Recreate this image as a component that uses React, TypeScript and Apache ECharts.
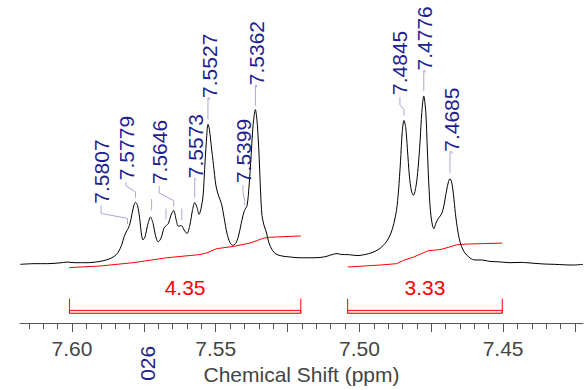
import React, { useEffect, useRef } from "react";
import * as echarts from "echarts";

// Spectrum trace: [chemical shift (ppm), intensity]
const spectrum: number[][] = [
  [7.6181, 0], [7.6129, 0.7], [7.6084, 0.7], [7.6042, 1.5], [7.6017, 2.3], [7.599, 1.7],
  [7.5944, 1.7], [7.5903, 3], [7.5875, 5], [7.5854, 8], [7.584, 12], [7.5827, 20],
  [7.5819, 28], [7.581, 34], [7.5804, 37], [7.5798, 42], [7.5791, 52], [7.5784, 61],
  [7.5779, 63.3], [7.5772, 60], [7.5765, 48], [7.5758, 30], [7.5753, 25], [7.5746, 28],
  [7.5737, 40], [7.5727, 48.3], [7.5718, 42], [7.571, 30], [7.57, 23], [7.569, 27],
  [7.568, 37], [7.5671, 40], [7.5664, 42], [7.5656, 50], [7.5646, 55], [7.5638, 46],
  [7.563, 39], [7.5619, 39.5], [7.561, 35], [7.56, 31.5], [7.559, 40], [7.5581, 55],
  [7.5573, 63], [7.5565, 58], [7.5558, 51], [7.5551, 57], [7.5544, 70], [7.5537, 105],
  [7.5531, 132], [7.5527, 143], [7.5522, 138], [7.5515, 120], [7.5508, 102], [7.5499, 80],
  [7.549, 70], [7.548, 62], [7.5471, 48], [7.5461, 32], [7.545, 22], [7.544, 19.5],
  [7.5429, 22], [7.5419, 31], [7.5409, 45], [7.54, 55], [7.5391, 60], [7.5384, 80],
  [7.5377, 110], [7.537, 142], [7.5362, 158], [7.5355, 142], [7.5349, 110], [7.5344, 75],
  [7.5339, 50], [7.5332, 40], [7.5323, 32], [7.5315, 22], [7.5304, 15], [7.529, 10.5],
  [7.5269, 8.5], [7.5241, 7.5], [7.5207, 6.7], [7.5172, 6.7], [7.5137, 7], [7.5113, 8.3],
  [7.5095, 10], [7.5078, 11], [7.5061, 10], [7.5043, 10], [7.5026, 9.5], [7.5005, 9],
  [7.4981, 10], [7.4956, 12], [7.4935, 15], [7.4918, 19], [7.4904, 24], [7.489, 32],
  [7.488, 42], [7.4871, 55], [7.4864, 75], [7.4857, 105], [7.4851, 135], [7.4845, 147],
  [7.4839, 140], [7.4833, 118], [7.4826, 90], [7.4819, 75], [7.4812, 70.5], [7.4803, 80],
  [7.4796, 98], [7.4789, 125], [7.4783, 155], [7.4776, 172], [7.4769, 155], [7.4764, 120],
  [7.4759, 85], [7.4753, 55], [7.4746, 40], [7.4741, 36.5], [7.4734, 42], [7.4725, 47],
  [7.4714, 51.5], [7.4706, 60], [7.4697, 75], [7.469, 84.5], [7.4685, 87.5], [7.4679, 84],
  [7.4673, 72], [7.4666, 52], [7.4657, 33], [7.4647, 20], [7.4633, 11.7], [7.4615, 6.5],
  [7.4598, 4.5], [7.4577, 4.5], [7.4563, 4], [7.4546, 3], [7.4511, 2.5], [7.4476, 1.7],
  [7.4441, 2], [7.4417, 1.7], [7.4389, 1], [7.4354, 0.3], [7.432, 0], [7.4285, -0.5],
  [7.4257, -0.7], [7.4222, 0],
];

// Integral curves
const integralLeft: number[][] = [
  [7.6009, -3.3], [7.5903, -1.7], [7.5787, 1.7], [7.5671, 6.7], [7.5555, 10], [7.5531, 11.7],
  [7.5497, 16], [7.5439, 18.3], [7.5381, 21.7], [7.5334, 26.7], [7.5311, 27.7], [7.5204, 29],
];
const integralRight: number[][] = [
  [7.5041, -2.7], [7.4928, -0.7], [7.487, 0.7], [7.4847, 4], [7.4813, 7.3], [7.4778, 11.7],
  [7.476, 14], [7.472, 15], [7.4691, 17.3], [7.4662, 20], [7.4627, 20.7], [7.4503, 21.7],
];

// Integration ranges: [from ppm, to ppm, value]
const integrations: number[][] = [
  [7.6009, 7.5204, 4.35],
  [7.5041, 7.4503, 3.33],
];

// Peak labels
const peakTexts = ["7.5807", "7.5779", "7.5646", "7.5573", "7.5527", "7.5399", "7.5362", "7.4845", "7.4776", "7.4685"];
const peakPpm = [7.5807, 7.5779, 7.5646, 7.5573, 7.5527, 7.5399, 7.5362, 7.4845, 7.4776, 7.4685];
const labelPpm = [7.5899, 7.5812, 7.5697, 7.5572, 7.5522, 7.5405, 7.5358, 7.4859, 7.4772, 7.4678];
const labelBase = [62, 86, 82, 88, 170, 83, 183, 173, 198, 115];
const bendUpper = [52, 80, 73, 88, 170, 73, 183, 163, 198, 115];
const bendLower = [47, 74, 65, 88, 170, 65, 183, 158, 198, 115];
const leaderTip = [41, 68, 59, 68, 148, 60, 162, 152, 177, 93];

// Unlabelled peak markers: [ppm, top, tip]
const markerPpm = [7.5723, 7.5673, 7.5618];
const markerTop = [66.7, 57, 57];
const markerTip = [55, 46, 45];

// Partially visible label at the bottom
const cutText = "026";
const cutPpm = 7.5736;
const cutBase = -119;

const tickLabels = [7.45, 7.5, 7.55, 7.6];

const X_MIN = 7.4222;
const X_MAX = 7.6181;

const FONT = '"Liberation Sans", Arial, sans-serif';
const NAVY = "#1f1f8f";
const LEADER = "#a8a8d8";
const RED = "#ff0000";

export default function App() {
  const ref = useRef<HTMLDivElement>(null);
  useEffect(() => {
    if (!ref.current) return;
    const chart = echarts.init(ref.current, null, { renderer: "svg" });

    const smallTicks: number[] = [];
    for (let k = 7425; k <= 7615; k += 5) smallTicks.push(k / 1000);
    const mediumTicks: number[] = [];
    for (let k = 7425; k <= 7615; k += 25) mediumTicks.push(k / 1000);

    const labelData = peakTexts.map((_, i) => [
      peakPpm[i], labelPpm[i], labelBase[i], bendUpper[i], bendLower[i], leaderTip[i], i,
    ]);
    const markerData = markerPpm.map((p, i) => [p, markerTop[i], markerTip[i]]);

    chart.setOption({
      animation: false,
      grid: { left: 20, right: 2, top: 0, bottom: 60, containLabel: false },
      xAxis: [
        {
          type: "value",
          min: X_MIN,
          max: X_MAX,
          inverse: true,
          position: "bottom",
          offset: 0,
          axisLine: { show: true, onZero: false, lineStyle: { color: "#555", width: 1 } },
          axisTick: { show: true, customValues: mediumTicks, length: 9, lineStyle: { color: "#555", width: 1 } },
          axisLabel: {
            show: true,
            customValues: tickLabels,
            formatter: (v: number) => v.toFixed(2),
            color: "#444",
            fontSize: 21,
            fontFamily: FONT,
            margin: 15,
          },
          splitLine: { show: false },
          name: "Chemical Shift (ppm)",
          nameLocation: "middle",
          nameGap: 40,
          nameTextStyle: { color: "#444", fontSize: 21, fontFamily: FONT },
        },
        {
          type: "value",
          min: X_MIN,
          max: X_MAX,
          inverse: true,
          position: "bottom",
          offset: 0,
          axisLine: { show: false, onZero: false },
          axisTick: { show: true, customValues: smallTicks, length: 6, lineStyle: { color: "#555", width: 1 } },
          axisLabel: { show: false },
          splitLine: { show: false },
        },
      ],
      yAxis: { type: "value", min: -60, max: 270, show: false },
      series: [
        {
          type: "line",
          data: spectrum,
          showSymbol: false,
          smooth: 0.3,
          lineStyle: { color: "#000", width: 1 },
          silent: true,
          z: 3,
        },
        {
          type: "line",
          data: integralLeft,
          showSymbol: false,
          lineStyle: { color: RED, width: 1 },
          silent: true,
          z: 2,
        },
        {
          type: "line",
          data: integralRight,
          showSymbol: false,
          lineStyle: { color: RED, width: 1 },
          silent: true,
          z: 2,
        },
        {
          type: "custom",
          data: integrations,
          silent: true,
          renderItem: (params: any, api: any) => {
            const a = api.value(0);
            const b = api.value(1);
            const v = api.value(2);
            const pA = api.coord([a, -47]);
            const pB = api.coord([b, -50]);
            const tA = api.coord([a, -35]);
            const tB = api.coord([b, -35]);
            const mid = api.coord([(a + b) / 2, -24]);
            return {
              type: "group",
              children: [
                {
                  type: "rect",
                  shape: { x: pA[0], y: pA[1], width: pB[0] - pA[0], height: pB[1] - pA[1] },
                  style: { fill: "#ffe6e6", stroke: RED, lineWidth: 1 },
                },
                {
                  type: "line",
                  shape: { x1: tA[0], y1: tA[1], x2: pA[0], y2: pB[1] },
                  style: { stroke: RED, lineWidth: 1 },
                },
                {
                  type: "line",
                  shape: { x1: tB[0], y1: tB[1], x2: pB[0], y2: pB[1] },
                  style: { stroke: RED, lineWidth: 1 },
                },
                {
                  type: "text",
                  x: mid[0],
                  y: mid[1],
                  style: {
                    text: v.toFixed(2),
                    fill: RED,
                    font: `21px ${FONT}`,
                    align: "center",
                    verticalAlign: "middle",
                  },
                },
              ],
            };
          },
        },
        {
          type: "custom",
          data: labelData,
          silent: true,
          z: 4,
          renderItem: (params: any, api: any) => {
            const pk = api.value(0);
            const at = api.value(1);
            const idx = api.value(6);
            const pT = api.coord([at, api.value(2)]);
            const p1 = api.coord([at, api.value(3)]);
            const p2 = api.coord([pk, api.value(4)]);
            const p3 = api.coord([pk, api.value(5)]);
            const start = [p1[0], pT[1] + 2];
            return {
              type: "group",
              children: [
                {
                  type: "polyline",
                  shape: { points: [start, p1, p2, p3] },
                  style: { stroke: LEADER, lineWidth: 1, fill: "none" },
                },
                {
                  type: "text",
                  x: pT[0],
                  y: pT[1],
                  rotation: Math.PI / 2,
                  style: {
                    text: peakTexts[idx],
                    fill: NAVY,
                    font: `21px ${FONT}`,
                    align: "left",
                    verticalAlign: "middle",
                  },
                },
              ],
            };
          },
        },
        {
          type: "custom",
          data: markerData,
          silent: true,
          z: 4,
          renderItem: (params: any, api: any) => {
            const a = api.coord([api.value(0), api.value(1)]);
            const b = api.coord([api.value(0), api.value(2)]);
            return {
              type: "line",
              shape: { x1: a[0], y1: a[1], x2: b[0], y2: b[1] },
              style: { stroke: LEADER, lineWidth: 1 },
            };
          },
        },
        {
          type: "custom",
          data: [[cutPpm, cutBase]],
          silent: true,
          z: 4,
          renderItem: (params: any, api: any) => {
            const p = api.coord([api.value(0), api.value(1)]);
            return {
              type: "text",
              x: p[0],
              y: p[1],
              rotation: Math.PI / 2,
              style: {
                text: cutText,
                fill: NAVY,
                font: `21px ${FONT}`,
                align: "left",
                verticalAlign: "middle",
              },
            };
          },
        },
      ],
    });
    return () => chart.dispose();
  }, []);
  return (
    <div
      ref={ref}
      style={{ position: "fixed", left: 0, top: 0, width: 585, height: 390, background: "#fff" }}
    />
  );
}
